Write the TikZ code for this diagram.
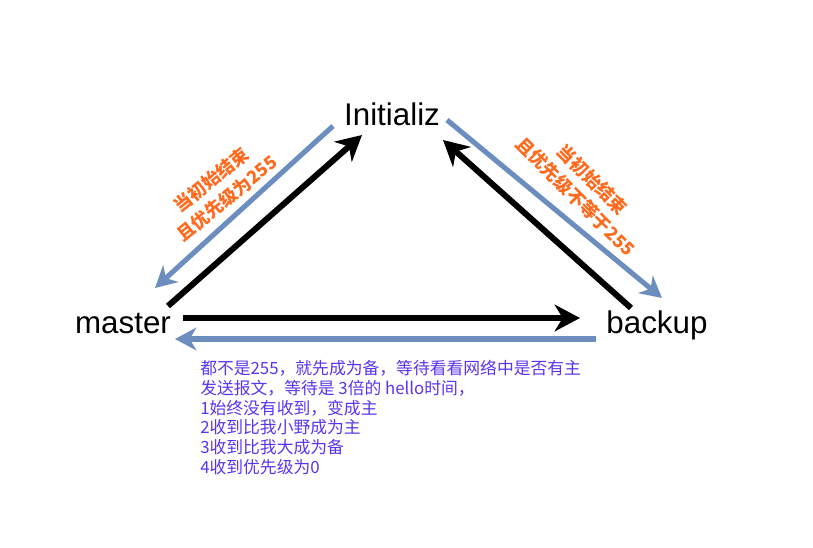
\documentclass[tikz,border=0pt]{standalone}
\usepackage{fontspec}
\setmainfont{Liberation Sans}
\newfontfamily\cjk{Noto Sans CJK SC}
\usetikzlibrary{arrows.meta, positioning, calc}
\definecolor{stateblue}{HTML}{6C8EBF}
\definecolor{condorange}{HTML}{FF6A1F}
\definecolor{noteviolet}{HTML}{5A35F0}

\begin{document}
\begin{tikzpicture}[
    x=0.75pt, y=-0.75pt,
    state/.style={font=\fontsize{23.5}{27}\selectfont, inner sep=0pt, anchor=base},
    cond/.style={font=\cjk\bfseries\fontsize{13.5}{18}\selectfont,
        text=condorange, align=center, inner sep=0pt},
    note/.style={font=\cjk\fontsize{12.6}{14.8}\selectfont,
        text=noteviolet, align=left, inner sep=0pt},
    go/.style={-{Stealth[length=19pt, width=20pt, inset=6pt]}, line width=4.5pt, black},
    back/.style={-{Stealth[length=16pt, width=17pt, inset=5pt]}, line width=3.8pt, stateblue},
]
\useasboundingbox (0,0) rectangle (813,547);

% ── States ────────────────────────────
\node[state] (init) at (392,125) {Initializ};
\node[state] (master) at (123,333) {master};
\node[state] (backup) at (657,333) {backup};

% ── Conditions ────────────────────────
\node[cond, rotate=39] (toMaster) at (219,189) {当初始结束\\且优先级为255};
\node[cond, rotate=-45] (toBackup) at (584,188) {当初始结束\\且优先级不等于255};

% ── Note ──────────────────────────────
\node[note, anchor=north west] (rule) at (200,360) {都不是255，就先成为备，等待看看网络中是否有主\\
发送报文，等待是 3倍的 hello时间，\\
1始终没有收到，变成主\\
2收到比我小野成为主\\
3收到比我大成为备\\
4收到优先级为0};

% ── Transitions ───────────────────────
\draw[go] ($(master.base)+(45,-27)$) -- ($(init.base)+(-30,10)$);
\draw[back] ($(init.base)+(-59,1)$) -- ($(master.base)+(32,-45)$);
\draw[go] ($(backup.base)+(-26,-25)$) -- ($(init.base)+(51,15)$);
\draw[back] ($(init.base)+(55,-5)$) -- ($(backup.base)+(5,-35)$);
\draw[go] ($(master.base)+(60,-15)$) -- ($(backup.base)+(-77,-15)$);
\draw[back] ($(backup.base)+(-61,6)$) -- ($(master.base)+(52,6)$);

\end{tikzpicture}
\end{document}
